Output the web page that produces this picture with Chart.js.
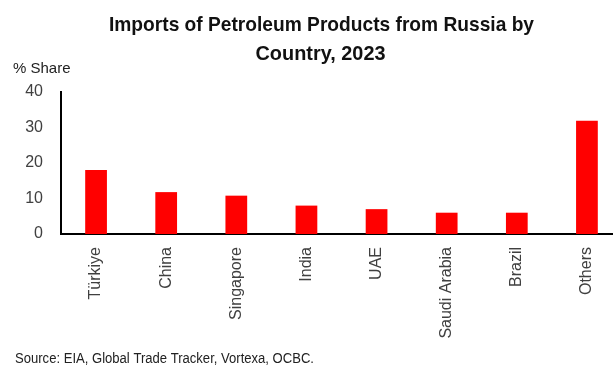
<!DOCTYPE html>
<html>
<head>
<meta charset="utf-8">
<title>Imports of Petroleum Products from Russia by Country, 2023</title>
<script src="https://cdn.jsdelivr.net/npm/chart.js@4"></script>
<style>
    html, body { margin: 0; padding: 0; background: #fff; overflow: hidden; }
    #wrap { width: 640px; height: 367px; }
</style>
</head>
<body>
<div id="wrap"><canvas id="importsChart" width="640" height="367"></canvas></div>
<script>
// data
const countries = ["Türkiye", "China", "Singapore", "India", "UAE", "Saudi Arabia", "Brazil", "Others"];
const shares = [18, 11.8, 10.8, 8, 7, 6, 6, 31.9];
const yTicks = [0, 10, 20, 30, 40];

const titleLines = ["Imports of Petroleum Products from Russia by", "Country, 2023"];
const yAxisLabel = "% Share";
const sourceText = "Source: EIA, Global Trade Tracker, Vortexa, OCBC.";

// draws the title, unit label and source note (chart title is offset from centre in the original)
const textPlugin = {
    id: "extraText",
    afterDraw(chart) {
        const ctx = chart.ctx;
        ctx.save();
        ctx.fillStyle = "#111";
        ctx.textBaseline = "alphabetic";

        ctx.textAlign = "center";
        ctx.font = "bold 21px 'Liberation Sans', Arial, sans-serif";
        ctx.fillText(titleLines[0], 321.5, 31, 425);
        ctx.fillText(titleLines[1], 320.5, 59.5, 130);

        ctx.textAlign = "left";
        ctx.fillStyle = "#222";
        ctx.font = "15px 'Liberation Sans', Arial, sans-serif";
        ctx.fillText(yAxisLabel, 13, 73);

        ctx.font = "14px 'Liberation Sans', Arial, sans-serif";
        ctx.fillText(sourceText, 15, 363, 299);
        ctx.restore();
    }
};

document.addEventListener("DOMContentLoaded", function() {
    const ctx = document.getElementById("importsChart").getContext("2d");

    new Chart(ctx, {
        type: "bar",
        data: {
            labels: countries,
            datasets: [{
                label: "% Share",
                data: shares,
                backgroundColor: "#FF0000",
                borderWidth: 0,
                categoryPercentage: 1,
                barPercentage: 0.31
            }]
        },
        options: {
            responsive: false,
            devicePixelRatio: 1,
            animation: false,
            layout: {
                padding: { top: 92, left: 0, right: 18, bottom: 0 }
            },
            plugins: {
                legend: { display: false },
                title: { display: false },
                tooltip: { enabled: false }
            },
            scales: {
                x: {
                    grid: { display: false, drawTicks: false },
                    border: { display: true, color: "#000", width: 2 },
                    ticks: {
                        color: "#404040",
                        font: { family: "'Liberation Sans', Arial, sans-serif", size: 16 },
                        minRotation: 90,
                        maxRotation: 90,
                        padding: 13,
                        autoSkip: false
                    },
                    afterFit: function(scale) { scale.height = 133; }
                },
                y: {
                    min: yTicks[0],
                    max: yTicks[yTicks.length - 1],
                    grid: { display: false, drawTicks: false },
                    border: { display: true, color: "#000", width: 2 },
                    afterBuildTicks: function(scale) {
                        scale.ticks = yTicks.map(v => ({ value: v }));
                    },
                    ticks: {
                        color: "#404040",
                        font: { family: "'Liberation Sans', Arial, sans-serif", size: 16 },
                        padding: 18
                    },
                    afterFit: function(scale) { scale.width = 61; }
                }
            }
        },
        plugins: [textPlugin]
    });
});
</script>
</body>
</html>
